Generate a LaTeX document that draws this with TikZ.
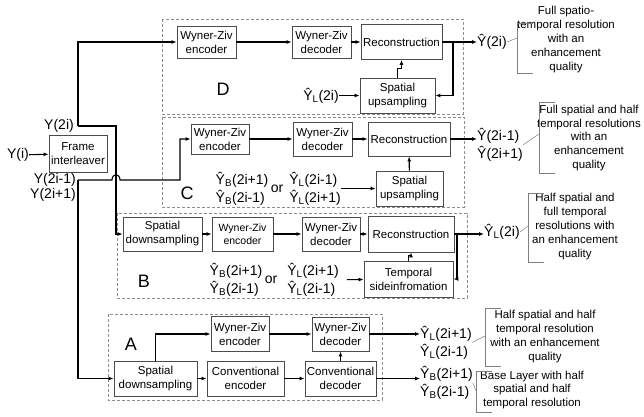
\documentclass[tikz,border=0pt]{standalone}
\usepackage{fontspec}
\setmainfont{Liberation Sans}
\usetikzlibrary{arrows.meta}
\newcommand{\YB}{Ŷ\textsubscript{B}}
\newcommand{\YL}{Ŷ\textsubscript{L}}

\begin{document}
\begin{tikzpicture}[x=1pt,y=-1pt,
 blk/.style={draw=black!70,line width=0.8pt,align=center,inner sep=0pt,font=\fontsize{11.5}{14}\selectfont},
 sig/.style={inner sep=0pt,font=\fontsize{14}{18}\selectfont},
 lbl/.style={inner sep=0pt,font=\fontsize{18}{18}\selectfont},
 grp/.style={draw=black!45,line width=0.6pt,dash pattern=on 3pt off 2pt},
 note/.style={align=center,inner sep=0pt,font=\fontsize{11.5}{13.8}\selectfont},
 brk/.style={draw=black!50,line width=0.5pt},
 arr/.style={line width=1.1pt,-{Latex[length=5pt,width=4pt]}}]
 \useasboundingbox (0,0) rectangle (644,416);

 \draw[grp] (162,19) rectangle (463,114);
 \draw[grp] (162,117) rectangle (464,207);
 \draw[grp] (117,213) rectangle (467,298);
 \draw[grp] (108,314) rectangle (382,400);

 \node[sig] (yi) at (18,155) {Y(i)};
 \node[blk,minimum width=58pt,minimum height=37pt] (fi) at (78,153.5) {Frame\\interleaver};
 \node[sig] (y2i) at (59,126) {Y(2i)};
 \node[sig,align=right,font=\fontsize{14}{15}\selectfont] (yodd) at (53,187) {Y(2i-1)\\Y(2i+1)};
 \coordinate (ev) at (78,126);
 \coordinate (od) at (78,180);
 \coordinate (jB) at (116,126);

 \node[blk,minimum width=59pt,minimum height=32pt] (encD) at (206.5,42) {Wyner-Ziv\\encoder};
 \node[blk,minimum width=59pt,minimum height=32pt] (decD) at (321.5,42) {Wyner-Ziv\\decoder};
 \node[blk,minimum width=81pt,minimum height=35pt] (recD) at (401.5,42) {Reconstruction};
 \node[blk,minimum width=75pt,minimum height=35pt] (upD) at (397.5,95.5) {Spatial\\upsampling};
 \node[sig] (ylD) at (321,95.5) {\YL(2i)};
 \node[lbl] (labD) at (223,89) {D};
 \node[sig,anchor=west] (outD) at (477,42) {Ŷ(2i)};
 \coordinate (fbD) at (453,42);

 \node[blk,minimum width=58pt,minimum height=30pt] (encC) at (220,139) {Wyner-Ziv\\encoder};
 \node[blk,minimum width=59pt,minimum height=34pt] (decC) at (322.5,139) {Wyner-Ziv\\decoder};
 \node[blk,minimum width=82pt,minimum height=34pt] (recC) at (409,139) {Reconstruction};
 \node[blk,minimum width=67pt,minimum height=35pt] (upC) at (409.5,188.5) {Spatial\\upsampling};
 \node[sig,align=left] (ybC) at (242,188.5) {\YB(2i+1)\\\YB(2i-1)};
 \node[sig] (orC) at (277,188.5) {or};
 \node[sig,align=left] (ylC) at (315,188.5) {\YL(2i-1)\\\YL(2i+1)};
 \node[lbl] (labC) at (187,193) {C};
 \node[sig,align=left,anchor=west] (outC) at (477,145) {Ŷ(2i-1)\\Ŷ(2i+1)};

 \node[blk,minimum width=79pt,minimum height=34pt] (dsB) at (162.5,234) {Spatial\\downsampling};
 \node[blk,minimum width=61pt,minimum height=34pt,font=\fontsize{10.5}{13}\selectfont] (encB) at (242.5,234) {Wyner-Ziv\\encoder};
 \node[blk,minimum width=58pt,minimum height=34pt] (decB) at (331,234) {Wyner-Ziv\\decoder};
 \node[blk,minimum width=86pt,minimum height=36pt] (recB) at (411,234) {Reconstruction};
 \node[blk,minimum width=89pt,minimum height=36pt] (tsB) at (408.5,279) {Temporal\\sideinfromation};
 \node[sig,align=left] (ybB) at (236,280) {\YB(2i+1)\\\YB(2i-1)};
 \node[sig] (orB) at (271,280) {or};
 \node[sig,align=left] (ylB) at (313,280) {\YL(2i+1)\\\YL(2i-1)};
 \node[lbl] (labB) at (144,281) {B};
 \node[sig,anchor=west] (outB) at (484,232) {\YL(2i)};
 \coordinate (fbB) at (457,234);

 \node[blk,minimum width=83pt,minimum height=35pt] (dsA) at (155.5,378.5) {Spatial\\downsampling};
 \node[blk,minimum width=58pt,minimum height=35pt] (encA) at (240,334) {Wyner-Ziv\\encoder};
 \node[blk,minimum width=77pt,minimum height=35pt] (ceA) at (245.5,378.5) {Conventional\\encoder};
 \node[blk,minimum width=57pt,minimum height=34pt] (decA) at (340.5,334) {Wyner-Ziv\\decoder};
 \node[blk,minimum width=71pt,minimum height=35pt] (cdA) at (340.5,378.5) {Conventional\\decoder};
 \node[lbl] (labA) at (131,344) {A};
 \node[sig,align=left,anchor=west] (outA1) at (420,342.5) {\YL(2i+1)\\\YL(2i-1)};
 \node[sig,align=left,anchor=west] (outA2) at (420,383) {\YB(2i+1)\\\YB(2i-1)};

 \node[note] (noteD) at (566,39.5) {Full spatio-\\temporal resolution\\with an\\enhancement\\quality};
 \node[note] (noteC) at (589,138) {Full spatial and half\\temporal resolutions\\with an\\enhancement\\quality};
 \node[note] (noteB) at (575,226.5) {Half spatial and\\full temporal\\resolutions with\\an enhancement\\quality};
 \node[note] (noteA1) at (545,336.5) {Half spatial and half\\temporal resolution\\with an enhancement\\quality};
 \node[note] (noteA2) at (532,390) {Base Layer with half\\spatial and half\\temporal resolution};
 \coordinate (bD) at (517,38);
 \coordinate (bC) at (539,134);
 \coordinate (bB) at (528,226);
 \coordinate (bA1) at (485,336);
 \coordinate (bA2) at (476,391);

 \draw[brk] (533,23) -- (517,23) -- (517,73) -- (533,73);
 \draw[brk] (555,102) -- (539,102) -- (539,173) -- (555,173);
 \draw[brk] (544,193) -- (528,193) -- (528,262) -- (544,262);
 \draw[brk] (501,308) -- (485,308) -- (485,366) -- (501,366);
 \draw[brk] (492,371) -- (476,371) -- (476,412) -- (492,412);
 \draw[brk] (outD.east) -- (bD);
 \draw[brk] (outC.east) -- (bC);
 \draw[brk] (outB.east) -- (bB);
 \draw[brk] (outA1.east) -- (bA1);
 \draw[brk] (outA2.east) -- (bA2);

 \draw[arr] (yi) -- (fi);
 \draw[arr] (ev) |- (encD);
 \draw[arr] (ev) -- (jB) |- (dsB);
 \draw[arr] (od) -- (112,180) .. controls (112,173) and (120,173) .. (120,180) -- (180,180) |- (encC);
 \draw[arr] (od) |- (dsA);

 \draw[arr] (encD) -- (decD);
 \draw[arr] (decD) -- (recD);
 \draw[arr] (ylD) -- (upD);
 \draw[arr] (upD.north) -- ++(0,-9) -| (recD.south);
 \draw[arr] (recD.east) -- (outD.west);
 \draw[arr] (fbD) |- (upD);

 \draw[arr] (encC) -- (decC);
 \draw[arr] (decC) -- (recC);
 \draw[arr] (ylC) -- (upC);
 \draw[arr] (upC) -- (recC);
 \draw[arr] (recC.east) -- (recC.east -| outC.west);

 \draw[arr] (dsB) -- (encB);
 \draw[arr] (encB) -- (decB);
 \draw[arr] (decB) -- (recB);
 \draw[arr,shorten <=8pt] (ylB) -- (tsB);
 \draw[arr] (tsB.north) -- ++(0,-5) -| (recB.south);
 \draw[arr] (recB.east) -- (recB.east -| outB.west);
 \draw[arr] (fbB) |- (tsB);

 \draw[arr] (dsA) -- (ceA);
 \draw[arr] (dsA.north) |- (encA);
 \draw[arr] (ceA) -- (cdA);
 \draw[arr] (encA) -- (decA);
 \draw[arr] (cdA) -- (decA);
 \draw[arr] (decA.east) -- (decA.east -| outA1.west);
 \draw[arr] (cdA.east) -- (cdA.east -| outA2.west);
\end{tikzpicture}
\end{document}
